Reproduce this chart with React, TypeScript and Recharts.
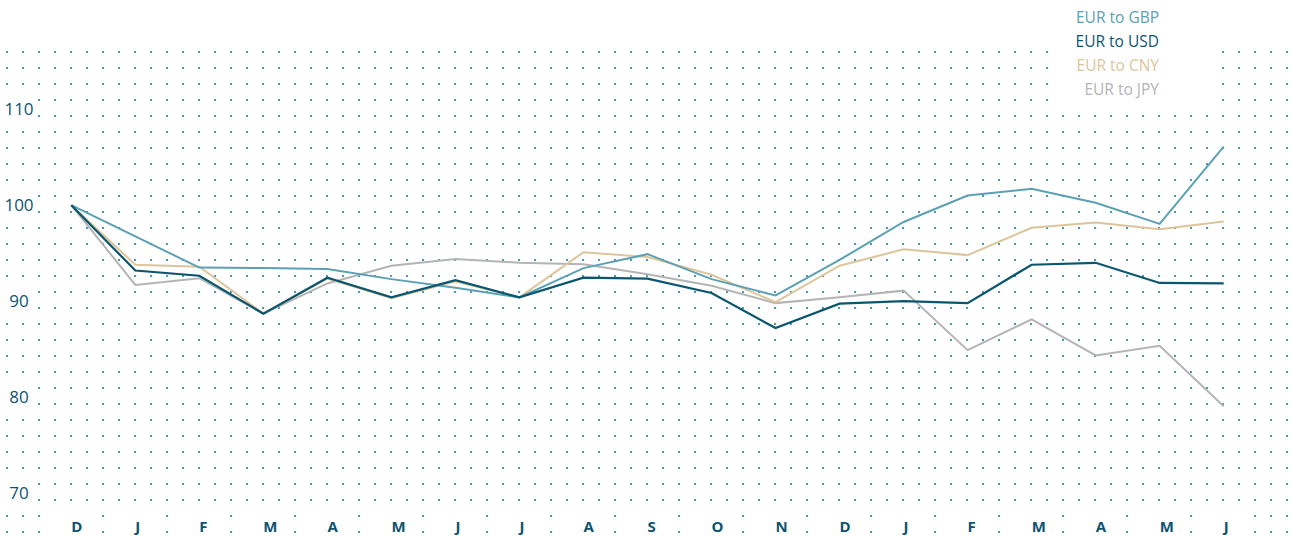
import { LineChart, Line, XAxis, YAxis, Legend } from "recharts";

const MONTHS = ["D", "J", "F", "M", "A", "M", "J", "J", "A", "S", "O", "N", "D", "J", "F", "M", "A", "M", "J"];

const GBP = [100, 96.75, 93.5, 93.45, 93.35, 92.3, 91.4, 90.4, 93.45, 94.9, 92.3, 90.6, 94.3, 98.25, 101.0, 101.7, 100.25, 98.05, 106.1];
const USD = [100, 93.2, 92.65, 88.7, 92.45, 90.4, 92.2, 90.4, 92.45, 92.35, 90.85, 87.2, 89.75, 90.0, 89.8, 93.8, 94.0, 91.9, 91.85];
const CNY = [100, 93.8, 93.6, 88.7, 92.35, 90.3, 92.05, 90.4, 95.1, 94.6, 92.75, 89.9, 93.7, 95.4, 94.8, 97.65, 98.2, 97.5, 98.3];
const JPY = [100, 91.7, 92.4, 88.7, 91.85, 93.7, 94.4, 94.0, 93.85, 92.8, 91.6, 89.8, 90.4, 91.1, 84.9, 88.1, 84.35, 85.35, 79.05];

const Y_TICKS = [70, 80, 90, 100, 110];

const SERIES = [
  { key: "gbp", name: "EUR to GBP", color: "#5ba0b4" },
  { key: "usd", name: "EUR to USD", color: "#0b566f" },
  { key: "cny", name: "EUR to CNY", color: "#dcc59b" },
  { key: "jpy", name: "EUR to JPY", color: "#b4b4b4" },
];

const data = MONTHS.map((m, i) => ({
  i,
  month: m,
  gbp: GBP[i],
  usd: USD[i],
  cny: CNY[i],
  jpy: JPY[i],
}));

const FONT = "'Open Sans', 'Noto Sans', sans-serif";
const INK = "#0d5470";

function XTick(props: any) {
  const { x, payload } = props;
  return (
    <g>
      {/* white box hides the dot grid behind the label */}
      <rect x={x - 22} y={507} width={48} height={29} fill="#fff" />
      <text x={x} y={532} textAnchor="start" fontFamily={FONT} fontSize={15} fontWeight={700} fill={INK}>
        {MONTHS[payload.value]}
      </text>
    </g>
  );
}

function YTick(props: any) {
  const { y, payload } = props;
  return (
    <g>
      <rect x={0} y={y - 13} width={35} height={28} fill="#fff" />
      <text x={19} y={y + 6} textAnchor="middle" fontFamily={FONT} fontSize={17} fill={INK}>
        {payload.value}
      </text>
    </g>
  );
}

function LegendBox() {
  return (
    <div
      style={{
        background: "#fff",
        padding: "5px 56px 13px 24px",
        fontFamily: FONT,
        fontSize: 15.5,
        lineHeight: "24px",
        textAlign: "right",
        whiteSpace: "nowrap",
      }}
    >
      {SERIES.map((s) => (
        <div key={s.key} style={{ color: s.color }}>
          {s.name}
        </div>
      ))}
    </div>
  );
}

export default function App() {
  return (
    <div style={{ position: "absolute", left: 0, top: 0, width: 1292, height: 536, background: "#fff" }}>
      {/* dotted background */}
      <div
        style={{
          position: "absolute",
          left: 0,
          top: 44,
          width: 1292,
          height: 492,
          backgroundImage: "radial-gradient(circle, #4f98b0 1px, rgba(79,152,176,0) 1.6px)",
          backgroundSize: "16px 16px",
          backgroundPosition: "-1px 0px",
        }}
      />
      <div style={{ position: "absolute", left: 0, top: 0 }}>
        <LineChart width={1292} height={536} data={data} margin={{ top: 70.8, right: 68.3, bottom: 0, left: 0 }}>
          <XAxis
            dataKey="i"
            type="category"
            interval={0}
            height={23.6}
            axisLine={false}
            tickLine={false}
            tick={<XTick />}
          />
          <YAxis
            domain={[68, 114]}
            ticks={Y_TICKS}
            width={71.3}
            axisLine={false}
            tickLine={false}
            tick={<YTick />}
          />
          <Legend
            layout="vertical"
            align="center"
            verticalAlign="middle"
            wrapperStyle={{ top: 0, right: 77, left: "auto", width: "auto" }}
            content={<LegendBox />}
          />
          <Line type="linear" dataKey="jpy" name="EUR to JPY" stroke="#b4b4b4" strokeWidth={2} dot={false} isAnimationActive={false} />
          <Line type="linear" dataKey="cny" name="EUR to CNY" stroke="#dcc59b" strokeWidth={2} dot={false} isAnimationActive={false} />
          <Line type="linear" dataKey="gbp" name="EUR to GBP" stroke="#5ba0b4" strokeWidth={2} dot={false} isAnimationActive={false} />
          <Line type="linear" dataKey="usd" name="EUR to USD" stroke="#0b566f" strokeWidth={2.2} dot={false} isAnimationActive={false} />
        </LineChart>
      </div>
    </div>
  );
}
